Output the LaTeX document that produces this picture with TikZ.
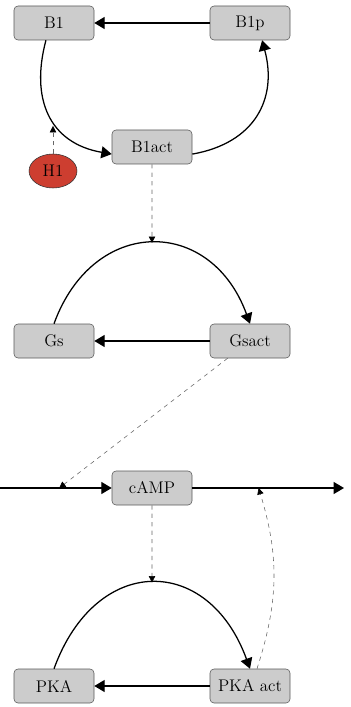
\documentclass[tikz,border=0pt]{standalone}
\usetikzlibrary{arrows.meta,shapes.geometric}
\definecolor{hred}{RGB}{205,62,48}
\tikzset{
	species/.style={draw=black!65,fill=black!20,rounded corners=0.1cm,minimum width=2cm,minimum height=0.85cm,inner sep=0pt,font=\large},
	ligand/.style={ellipse,draw=black!80,fill=hred,minimum width=1.2cm,minimum height=0.85cm,inner sep=0pt,font=\large},
	react/.style={line width=0.9pt,-{Triangle[length=0.26cm,width=0.3cm]}},
	influence/.style={draw=black!60,dashed,thin,-{Triangle[length=0.16cm,width=0.16cm,color=black]}}
}
\begin{document}
	\begin{tikzpicture}
		\useasboundingbox (0,0) rectangle (8.75,-17.675);

		\node[species] (B1) at (1.35,-0.575) {B1};
		\node[species] (B1p) at (6.25,-0.575) {B1p};
		\node[species] (B1act) at (3.8,-3.675) {B1act};
		\node[ligand] (H1) at (1.325,-4.275) {H1};

		\node[species] (Gs) at (1.35,-8.525) {Gs};
		\node[species] (Gsact) at (6.25,-8.525) {Gsact};

		\node[species] (cAMP) at (3.8,-12.2) {cAMP};
		\coordinate (cin) at (0,-12.2);
		\coordinate (cout) at (8.6,-12.2);

		\node[species] (PKA) at (1.35,-17.15) {PKA};
		\node[species] (PKAact) at (6.25,-17.15) {PKA act};

		% receptor cycle
		\draw[react] (B1p) -- (B1);
		\draw[react] (B1.-115) .. controls +(-105:1.5) and +(170:1.6) .. coordinate[pos=0.6] (b1h) (B1act.190);
		\draw[react] (B1act.-10) .. controls +(10:1.6) and +(-75:1.5) .. (B1p.-55);
		\draw[influence] (H1.north) -- (H1.north |- b1h);

		% G protein cycle
		\draw[react] (Gs.north) to[out=70,in=110,looseness=1.5] coordinate[pos=0.5] (gtop) (Gsact.north);
		\draw[react] (Gsact) -- (Gs);
		\draw[influence] (B1act.south) -- (gtop);

		% cAMP production and degradation
		\draw[react] (cin) -- coordinate[pos=0.53] (cprod) (cAMP.west);
		\draw[react] (cAMP.east) -- coordinate[pos=0.437] (cdeg) (cout);
		\draw[influence] (Gsact) -- (cprod);

		% PKA cycle
		\draw[react] (PKA.north) to[out=70,in=110,looseness=1.6] coordinate[pos=0.5] (ptop) (PKAact.north);
		\draw[react] (PKAact) -- (PKA);
		\draw[influence] (cAMP.south) -- (ptop);
		\draw[influence] (PKAact.68) to[out=72,in=-73] (cdeg);
	\end{tikzpicture}
\end{document}
